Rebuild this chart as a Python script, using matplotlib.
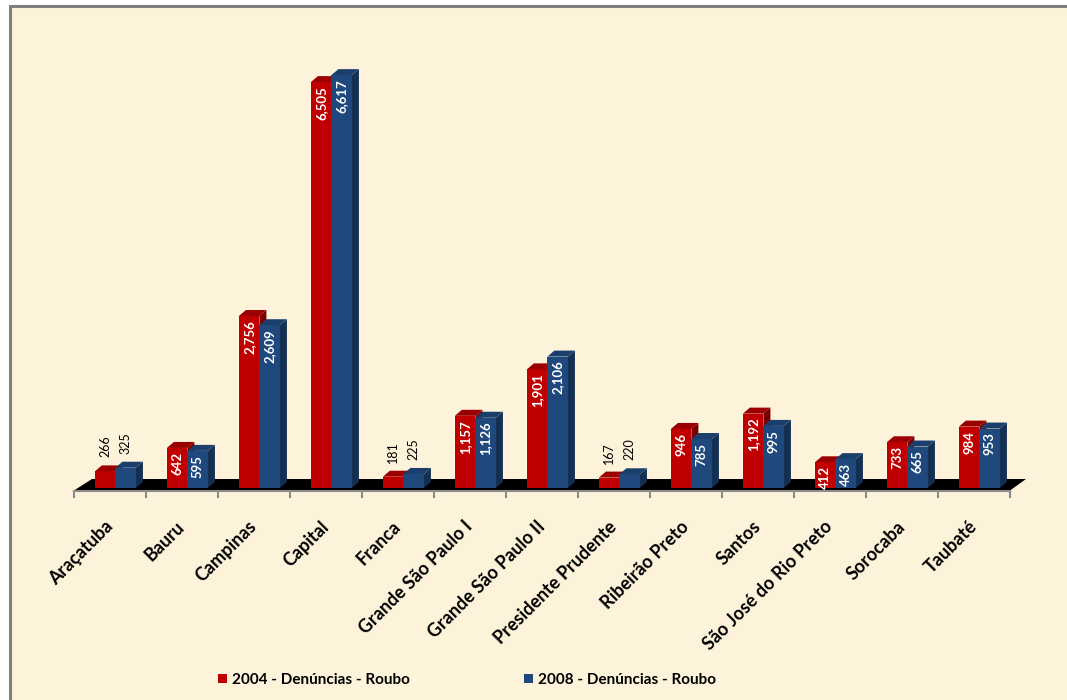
import numpy as np
import matplotlib.pyplot as plt
from matplotlib.patches import Polygon, Rectangle, Patch

plt.rcParams['font.family'] = ['Lato', 'DejaVu Sans']

regions = ['Araçatuba', 'Bauru', 'Campinas', 'Capital', 'Franca', 'Grande São Paulo I',
           'Grande São Paulo II', 'Presidente Prudente', 'Ribeirão Preto', 'Santos',
           'São José do Rio Preto', 'Sorocaba', 'Taubaté']
roubo_2004 = [266, 642, 2756, 6505, 181, 1157, 1901, 167, 946, 1192, 412, 733, 984]
roubo_2008 = [325, 595, 2609, 6617, 225, 1126, 2106, 220, 785, 995, 463, 665, 953]
series_names = ['2004 - Denúncias - Roubo', '2008 - Denúncias - Roubo']

# front, top, side shades
red_cols = ('#C00000', '#9a0000', '#780000')
blue_cols = ('#1F497D', '#1b3f6c', '#132f52')

W, H = 1067, 700
fig = plt.figure(figsize=(W / 100, H / 100), dpi=100)
fig.patch.set_facecolor('white')
fig.patches.append(Rectangle((9.5 / W, -0.05), 1.1, (H - 6) / H + 0.05,
                             transform=fig.transFigure, fc='#fdf2da', ec='#808080',
                             lw=2.2, zorder=-10))

ax_left, ax_right, ax_top, ax_bot = 74, 1010, 40, 490.5
ax = fig.add_axes([ax_left / W, 1 - ax_bot / H, (ax_right - ax_left) / W, (ax_bot - ax_top) / H])
ax.patch.set_visible(False)
n = len(regions)
ymin, ymax = -40, 7180
ax.set_xlim(0, n)
ax.set_ylim(ymin, ymax)

px_x = (ax_right - ax_left) / n          # pixels per category
px_y = (ax_bot - ax_top) / (ymax - ymin)  # pixels per unit
ddx, ddy = 7 / px_x, 6 / px_y             # 3d depth of bars

# black floor
floor_back = 9 / px_y
ax.add_patch(Polygon([(0, ymin), (18 / px_x, floor_back), (n + 16 / px_x, floor_back), (n, ymin)],
                     closed=True, fc='black', ec='none', zorder=1, clip_on=False))

bw = 0.285
offsets = [0.29, 0.575]
for k, (vals, cols) in enumerate([(roubo_2004, red_cols), (roubo_2008, blue_cols)]):
    x0 = np.arange(n) + offsets[k]
    z = 2 + k
    ax.bar(x0, vals, width=bw, align='edge', color=cols[0], zorder=z)
    for x, v in zip(x0, vals):
        ax.add_patch(Polygon([(x + bw, 0), (x + bw, v), (x + bw + ddx, v + ddy), (x + bw + ddx, ddy)],
                             closed=True, fc=cols[2], ec='none', zorder=z))
        ax.add_patch(Polygon([(x, v), (x + bw, v), (x + bw + ddx, v + ddy), (x + ddx, v + ddy)],
                             closed=True, fc=cols[1], ec='none', zorder=z))
        if v < 350:
            ax.text(x + bw / 2, v + 14 / px_y, f'{v:,}', rotation=90, ha='center', va='bottom',
                    fontsize=9, color='black', zorder=5)
        else:
            ax.text(x + bw / 2, v - 4 / px_y, f'{v:,}', rotation=90, ha='center', va='top',
                    fontsize=9.5, color='white', weight='bold', zorder=5)

for s in ['top', 'left', 'right']:
    ax.spines[s].set_visible(False)
ax.spines['bottom'].set_color('#8c8c8c')
ax.spines['bottom'].set_linewidth(1.5)
ax.set_yticks([])
ax.set_xticks(range(n + 1))
ax.set_xticklabels([])
ax.tick_params(axis='x', which='major', length=5, width=1.5, color='#8c8c8c')
ax.set_xticks(np.arange(n) + 0.5, minor=True)
ax.set_xticklabels(regions, minor=True, rotation=45, ha='right', va='center',
                   rotation_mode='anchor', fontsize=13, weight='bold')
ax.tick_params(axis='x', which='minor', length=0, pad=24)

handles = [Patch(fc=red_cols[0]), Patch(fc=blue_cols[0])]
fig.legend(handles, series_names, loc='center', bbox_to_anchor=(467 / W, 1 - 680 / H), ncol=2,
           frameon=False, handlelength=0.6, handleheight=0.6, handletextpad=0.3,
           columnspacing=7.5, prop=dict(weight='bold', size=11))

fig.savefig('out.png', dpi=100)
